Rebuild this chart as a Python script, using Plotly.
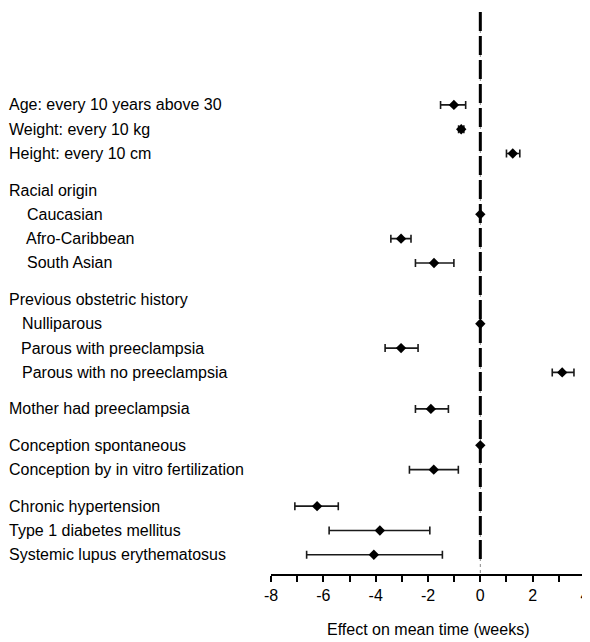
import plotly.graph_objects as go

# ---- data ----
labels = [
    "Age: every 10 years above 30", "Weight: every 10 kg", "Height: every 10 cm",
    "Racial origin", "Caucasian", "Afro-Caribbean", "South Asian",
    "Previous obstetric history", "Nulliparous", "Parous with preeclampsia",
    "Parous with no preeclampsia",
    "Mother had preeclampsia",
    "Conception spontaneous", "Conception by in vitro fertilization",
    "Chronic hypertension", "Type 1 diabetes mellitus", "Systemic lupus erythematosus",
]
groups = [0, 0, 0, 1, 1, 1, 1, 2, 2, 2, 2, 3, 4, 4, 5, 5, 5]
effect = [-1.01, -0.73, 1.24, None, 0.0, -3.03, -1.77, None, 0.0, -3.03, 3.13,
          -1.89, 0.0, -1.78, -6.24, -3.84, -4.07]
ci_low = [-1.52, -0.83, 1.00, None, 0.0, -3.42, -2.48, None, 0.0, -3.64, 2.75,
          -2.48, 0.0, -2.71, -7.09, -5.78, -6.64]
ci_high = [-0.56, -0.63, 1.51, None, 0.0, -2.65, -1.01, None, 0.0, -2.38, 3.58,
           -1.22, 0.0, -0.84, -5.43, -1.93, -1.45]
tick_vals = list(range(-8, 5))
tick_text = ["-8", "", "-6", "", "-4", "", "-2", "", "0", "", "2", "", "4"]
x_title = "Effect on mean time (weeks)"

# ---- styles ----
indent_px = [0, 0, 0, 0, 18, 17, 18, 0, 13, 12, 13, 0, 0, 0, 0, 0, 0]
FONT = "Liberation Sans, Arial, sans-serif"
FS = 16

# row layout: 1 per row, 1.5 between groups
rows = []
r = 0.0
for i, g in enumerate(groups):
    if i > 0:
        r += 1.5 if g != groups[i - 1] else 1.0
    rows.append(r)

px_idx = [i for i, e in enumerate(effect) if e is not None and ci_low[i] != ci_high[i]]
zero_idx = [i for i, e in enumerate(effect) if e is not None and ci_low[i] == ci_high[i]]

fig = go.Figure()

y_top = -3.82
y_bot = 19.29

# thin grey dotted reference line
fig.add_shape(type="line", x0=0, x1=0, y0=y_top, y1=y_bot, xref="x", yref="y",
              line=dict(color="#888888", width=1, dash="3px,3px"), layer="below")
# thick black dashed line
fig.add_shape(type="line", x0=0, x1=0, y0=y_top, y1=18.7, xref="x", yref="y",
              line=dict(color="black", width=3, dash="19px,5px"), layer="below")

fig.add_trace(go.Scatter(
    x=[effect[i] for i in px_idx],
    y=[rows[i] for i in px_idx],
    mode="markers",
    marker=dict(symbol="diamond", size=8, color="black"),
    error_x=dict(type="data", symmetric=False,
                 array=[ci_high[i] - effect[i] for i in px_idx],
                 arrayminus=[effect[i] - ci_low[i] for i in px_idx],
                 color="#1a1a1a", thickness=1.6, width=4),
    hoverinfo="skip", showlegend=False,
))
fig.add_trace(go.Scatter(
    x=[effect[i] for i in zero_idx],
    y=[rows[i] for i in zero_idx],
    mode="markers",
    marker=dict(symbol="diamond", size=8, color="black"),
    hoverinfo="skip", showlegend=False,
))

for i, lab in enumerate(labels):
    fig.add_annotation(text=lab, xref="paper", yref="y", x=0, y=rows[i],
                       xanchor="left", yanchor="middle", showarrow=False,
                       xshift=-264 + indent_px[i],
                       font=dict(family=FONT, size=FS, color="black"))

fig.add_annotation(text=x_title, xref="paper", yref="paper", x=0.5, y=0,
                   xanchor="center", yanchor="middle", showarrow=False, yshift=-55,
                   font=dict(family=FONT, size=FS, color="black"))

# page body has an 8px margin: figure is drawn at (8, 8) in the window
fig.update_layout(
    width=582, height=634,
    margin=dict(l=263, r=5, t=4, b=68, autoexpand=False),
    paper_bgcolor="white", plot_bgcolor="white",
    font=dict(family=FONT, size=FS, color="black"),
    xaxis=dict(range=[-8.002, 4.002], tickvals=tick_vals, ticktext=tick_text,
               showgrid=False, zeroline=False, showline=True, linecolor="black",
               linewidth=1.5, ticks="outside", ticklen=6, tickwidth=1.5,
               tickcolor="black", tickfont=dict(family=FONT, size=FS),
               ticklabeloverflow="allow", automargin=False),
    yaxis=dict(range=[y_bot, y_top], visible=False, showgrid=False, zeroline=False),
)

fig.write_html("out.html")
